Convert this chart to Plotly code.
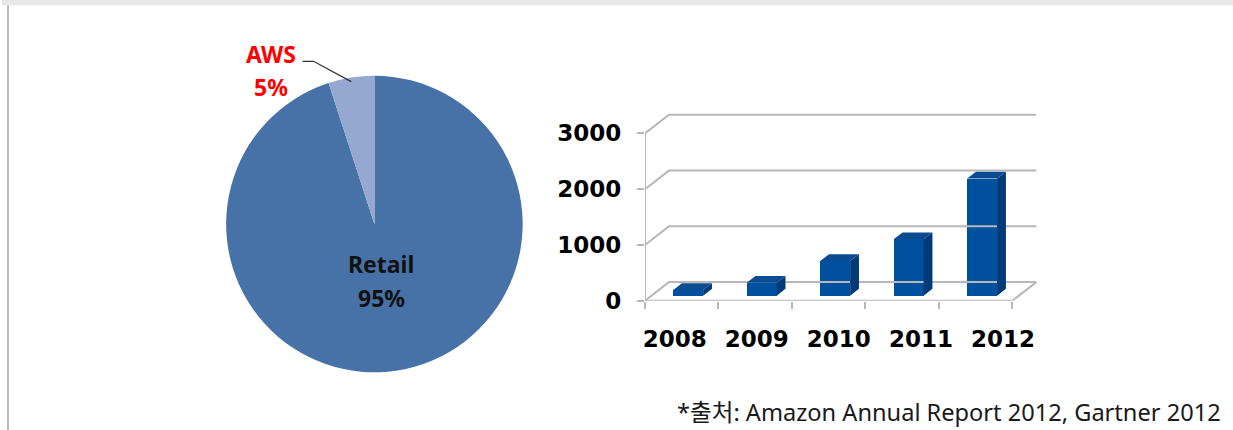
import math
import plotly.graph_objects as go

# ---------------- data ----------------
pie_labels = ["Retail", "AWS"]
pie_values = [95, 5]
pie_colors = ["#4672A8", "#95A9D0"]

years = ["2008", "2009", "2010", "2011", "2012"]
aws_revenue = [100, 230, 620, 1010, 2100]
y_ticks = [0, 1000, 2000, 3000]

source_text = "*출처: Amazon Annual Report 2012, Gartner 2012"

# ---------------- layout constants (pixels of the 1233x430 picture) ----------------
W, H = 1233, 430
H_PAGE = 445          # page height that ends up as the 430 px tall picture
VS = H / H_PAGE       # vertical squeeze seen in the photographed page
def fx(p):
    return p / W
def fy(p):
    return 1 - p / H

# pie geometry
PCX, PCY = 373, 223
PRH = 148.5           # radius in page pixels (horizontal)

# bar-chart oblique geometry
X0 = 644.0        # front-left corner of floor
CAT = 73.6        # px per category
Y0 = 299.3        # front floor line
PX1000 = 55.5     # px per 1000 units
XR = 5.5
YR = 3600
DX = 24.0 / CAT               # depth offset in category units
DY = 18.5 / PX1000 * 1000     # depth offset in value units
F0, F1 = 0.27, 0.64           # bar depth span (fraction of floor depth)
BW = 30.0 / CAT               # bar width
ncat = len(years)

GRID = "#B8B8B8"
FRONT = "#0050A0"
TOP = "#0A4C92"
SIDE = "#003A78"

fig = go.Figure()

# ---------------- pie ----------------
fig.add_trace(go.Pie(
    labels=pie_labels, values=pie_values, sort=False, direction="clockwise",
    rotation=0, textinfo="none", hoverinfo="label+percent",
    marker=dict(colors=pie_colors, line=dict(width=0)),
    domain=dict(x=[fx(PCX - PRH), fx(PCX + PRH)], y=[fy(PCY + 156), fy(PCY - 156)]),
    showlegend=False,
))

# ---------------- 3D-like bar chart ----------------
gx, gy = [], []
for v in y_ticks:
    gx += [0, DX, ncat + DX, None]
    gy += [v, v + DY, v + DY, None]
gx += [0, ncat, ncat + DX, None]
gy += [0, 0, DY, None]
gx += [0, 0, None]
gy += [0, y_ticks[-1], None]
fig.add_trace(go.Scatter(x=gx, y=gy, mode="lines", line=dict(color=GRID, width=2),
                         hoverinfo="skip", showlegend=False, cliponaxis=False))

bx = [i + 0.5 + F0 * DX for i in range(ncat)]
fig.add_trace(go.Bar(x=bx, y=aws_revenue, base=F0 * DY, width=BW,
                     marker=dict(color=FRONT, line=dict(width=0)),
                     hovertext=years, hoverinfo="text+y", showlegend=False))

dd = (F1 - F0) * DX
dv = (F1 - F0) * DY
tx, ty, sx, sy = [], [], [], []
for i, v in enumerate(aws_revenue):
    xl = bx[i] - BW / 2
    xr = bx[i] + BW / 2
    base = F0 * DY
    top = base + v
    tx += [xl, xr, xr + dd, xl + dd, xl, None]
    ty += [top, top, top + dv, top + dv, top, None]
    sx += [xr, xr, xr + dd, xr + dd, xr, None]
    sy += [base, top, top + dv, base + dv, base, None]
fig.add_trace(go.Scatter(x=tx, y=ty, mode="lines", fill="toself", fillcolor=TOP,
                         line=dict(width=0, color=TOP), hoverinfo="skip", showlegend=False))
fig.add_trace(go.Scatter(x=sx, y=sy, mode="lines", fill="toself", fillcolor=SIDE,
                         line=dict(width=0, color=SIDE), hoverinfo="skip", showlegend=False))

# category labels on an overlaying axis (evenly spaced labels, as in the original)
fig.add_trace(go.Scatter(x=years, y=[0] * ncat, xaxis="x2", yaxis="y", mode="markers",
                         marker=dict(opacity=0), hoverinfo="skip", showlegend=False))
LBL_FIRST, LBL_STEP = 673.8, 82.2          # px centre of first label, px between labels
x2_left = -(LBL_FIRST - X0) / LBL_STEP
x2_right = x2_left + XR * CAT / LBL_STEP

tickfont = dict(family="DejaVu Sans", size=23, color="#000000", weight="bold")

fig.update_layout(
    width=W, height=H_PAGE, autosize=False,
    margin=dict(l=0, r=0, t=0, b=0, pad=0),
    paper_bgcolor="white", plot_bgcolor="rgba(0,0,0,0)",
    xaxis=dict(domain=[fx(X0), fx(X0 + XR * CAT)], range=[0, XR],
               showgrid=False, zeroline=False, showline=False,
               tickmode="array", tickvals=list(range(ncat + 1)),
               ticks="outside", ticklen=7, tickwidth=2, tickcolor=GRID,
               showticklabels=False, fixedrange=True),
    xaxis2=dict(range=[x2_left, x2_right], anchor="y", overlaying="x", type="category",
                side="bottom",
                showgrid=False, zeroline=False, showline=False, ticks="",
                tickfont=tickfont, ticklabelstandoff=22, fixedrange=True),
    yaxis=dict(domain=[fy(Y0), fy(Y0 - YR / 1000 * PX1000)], range=[0, YR],
               showgrid=False, zeroline=False, showline=False,
               tickmode="array", tickvals=y_ticks,
               ticks="outside", ticklen=7, tickwidth=2, tickcolor=GRID,
               tickfont=tickfont, ticklabelstandoff=11, fixedrange=True),
    bargap=0,
)

# ---------------- decorations ----------------
shapes = [
    dict(type="rect", xref="paper", yref="paper", x0=0, x1=1, y0=fy(5.3), y1=1,
         fillcolor="#E8E8E8", line=dict(width=0), layer="below"),
    dict(type="line", xref="paper", yref="paper", x0=fx(6), x1=fx(6), y0=0, y1=fy(5.3),
         line=dict(color="#A6A6A6", width=1.5)),
]
aws_share = pie_values[1] / sum(pie_values)
ang = math.radians(360 * aws_share / 2)
ex = PCX - PRH * math.sin(ang)
ey = PCY - PRH * VS * math.cos(ang)
path = "M {} {} L {} {} L {} {}".format(fx(301), fy(61), fx(312), fy(61), fx(ex), fy(ey))
shapes.append(dict(type="path", xref="paper", yref="paper", path=path,
                   line=dict(color="#333333", width=1.3)))
fig.update_layout(shapes=shapes)

label_font = dict(family="Noto Sans", size=23, weight="bold")
total = sum(pie_values)
annotations = [
    dict(text=pie_labels[0], x=fx(380), y=fy(263), xref="paper", yref="paper",
         showarrow=False, font=dict(label_font, color="#111111"), xanchor="center", yanchor="middle"),
    dict(text=f"{round(pie_values[0] / total * 100)}%", x=fx(380), y=fy(297), xref="paper", yref="paper",
         showarrow=False, font=dict(label_font, color="#111111"), xanchor="center", yanchor="middle"),
    dict(text=pie_labels[1], x=fx(269.5), y=fy(53.5), xref="paper", yref="paper",
         showarrow=False, font=dict(label_font, color="#FF0000"), xanchor="center", yanchor="middle"),
    dict(text=f"{round(pie_values[1] / total * 100)}%", x=fx(269), y=fy(86.7), xref="paper", yref="paper",
         showarrow=False, font=dict(label_font, color="#FF0000"), xanchor="center", yanchor="middle"),
    dict(text=source_text, x=fx(1223), y=fy(410), xref="paper", yref="paper",
         showarrow=False, xanchor="right", yanchor="middle",
         font=dict(family="Noto Sans, Noto Sans CJK KR", size=23.6, color="#1A1A1A")),
]
fig.update_layout(annotations=annotations)

fig.write_html(
    "out.html",
    config={"responsive": False, "displayModeBar": False},
    post_script="document.body.style.margin='0';document.body.style.overflow='hidden';",
)
